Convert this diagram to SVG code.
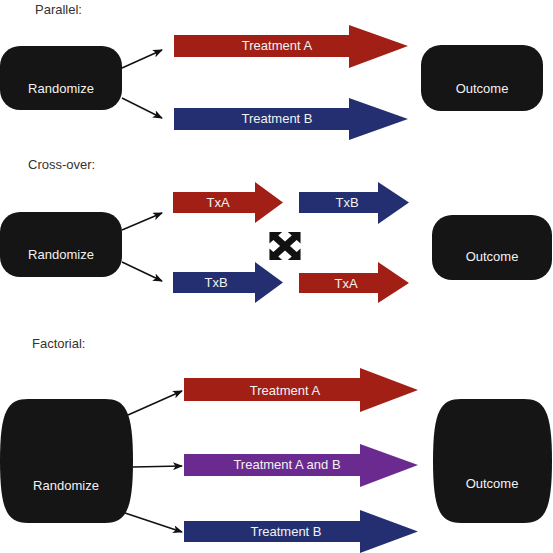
<svg xmlns="http://www.w3.org/2000/svg" width="553" height="553" viewBox="0 0 553 553">
<defs>
<marker id="ah" markerWidth="10" markerHeight="8" refX="9" refY="4" orient="auto" markerUnits="userSpaceOnUse">
<path d="M0,0 L10,4 L0,8 L2.5,4 Z" fill="#111"/>
</marker>
</defs>
<style>
.box{fill:#151515}
.bt{fill:#f2f2f2;font-family:"Liberation Sans",Arial,sans-serif;font-size:13px;text-anchor:middle}
.hd{fill:#333;font-family:"Liberation Sans",Arial,sans-serif;font-size:13px}
.red{fill:#a11f15}
.blue{fill:#232f70}
.purple{fill:#6b2a8f}
.conn line{stroke:#111;stroke-width:1.5;marker-end:url(#ah)}
</style>
<rect width="553" height="553" fill="#fff"/>

<text class="hd" x="35" y="14">Parallel:</text>
<text class="hd" x="28" y="169">Cross-over:</text>
<text class="hd" x="32" y="348">Factorial:</text>

<g id="connectors" class="conn">
<line x1="122" y1="68" x2="162" y2="50"/>
<line x1="122" y1="98" x2="162" y2="118"/>
<line x1="122" y1="230" x2="162" y2="213"/>
<line x1="122" y1="262" x2="162" y2="281"/>
<line x1="128" y1="415" x2="182" y2="391"/>
<line x1="133" y1="467" x2="182" y2="466"/>
<line x1="125" y1="513" x2="182" y2="532"/>
</g>

<g id="p-randomize"><rect class="box" x="0" y="46" width="122" height="64" rx="20"/><text class="bt" x="61" y="93">Randomize</text></g>
<g id="p-outcome"><rect class="box" x="421" y="45" width="122" height="66" rx="20"/><text class="bt" x="482" y="93">Outcome</text></g>
<g id="p-treatA"><polygon class="red" points="174,35 349,35 349,25 408,46 349,68 349,57 174,57"/><text class="bt" x="277" y="50">Treatment A</text></g>
<g id="p-treatB"><polygon class="blue" points="174,108 349,108 349,98 408,119 349,140 349,130 174,130"/><text class="bt" x="277" y="123">Treatment B</text></g>

<g id="c-randomize"><rect class="box" x="0" y="212" width="122" height="65" rx="20"/><text class="bt" x="61" y="259">Randomize</text></g>
<g id="c-outcome"><rect class="box" x="432" y="215" width="120" height="65" rx="20"/><text class="bt" x="492" y="261">Outcome</text></g>
<g id="c-txa1"><polygon class="red" points="173,192 255,192 255,182 283,202.5 255,223 255,213 173,213"/><text class="bt" x="218" y="207">TxA</text></g>
<g id="c-txb1"><polygon class="blue" points="173,272 255,272 255,262 283,282.5 255,303 255,293 173,293"/><text class="bt" x="216" y="287">TxB</text></g>
<g id="c-txb2"><polygon class="blue" points="299,192 378,192 378,182 409,202.5 378,224 378,213 299,213"/><text class="bt" x="347" y="207">TxB</text></g>
<g id="c-txa2"><polygon class="red" points="299,273 378,273 378,262 409,283 378,303 378,293 299,293"/><text class="bt" x="346" y="288">TxA</text></g>
<g id="c-cross"><path fill="#111" transform="translate(285,246) scale(1,0.9) rotate(45)" d="M22 0 L13 -9 L13 -3.5 L3.5 -3.5 L3.5 -13 L9 -13 L0 -22 L-9 -13 L-3.5 -13 L-3.5 -3.5 L-13 -3.5 L-13 -9 L-22 0 L-13 9 L-13 3.5 L-3.5 3.5 L-3.5 13 L-9 13 L0 22 L9 13 L3.5 13 L3.5 3.5 L13 3.5 L13 9 Z"/></g>

<g id="f-randomize"><path class="box" d="M28,399 H105 C125,399 133,410 133,461 C133,512 125,523 105,523 H28 C8,523 0,512 0,461 C0,410 8,399 28,399 Z"/><text class="bt" x="66" y="490">Randomize</text></g>
<g id="f-outcome"><path class="box" d="M461,399 H524 C544,399 552,410 552,461 C552,512 544,523 524,523 H461 C441,523 433,512 433,461 C433,410 441,399 461,399 Z"/><text class="bt" x="492" y="488">Outcome</text></g>
<g id="f-treatA"><polygon class="red" points="184,378 360,378 360,368 418,390 360,412 360,401 184,401"/><text class="bt" x="285" y="395">Treatment A</text></g>
<g id="f-treatAB"><polygon class="purple" points="184,454 360,454 360,444 418,465 360,487 360,476 184,476"/><text class="bt" x="287" y="469">Treatment A and B</text></g>
<g id="f-treatB"><polygon class="blue" points="184,521 360,521 360,510 418,531.5 360,553 360,542 184,542"/><text class="bt" x="286" y="536">Treatment B</text></g>
</svg>
